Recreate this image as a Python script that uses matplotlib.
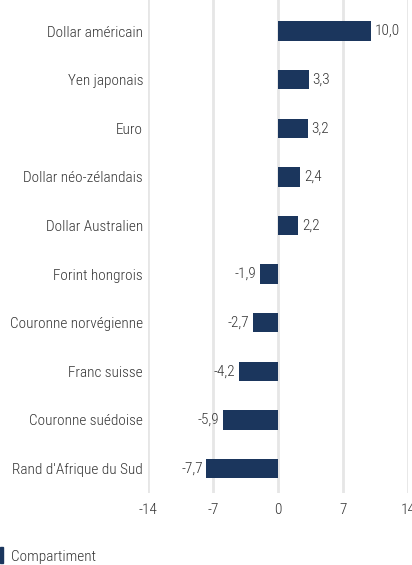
import matplotlib.pyplot as plt
from matplotlib.patches import Rectangle

# Currency categories and values (top to bottom)
categories = ["Dollar américain", "Yen japonais", "Euro", "Dollar néo-zélandais",
              "Dollar Australien", "Forint hongrois", "Couronne norvégienne",
              "Franc suisse", "Couronne suédoise", "Rand d'Afrique du Sud"]
values = [10.0, 3.3, 3.2, 2.4, 2.2, -1.9, -2.7, -4.2, -5.9, -7.7]
x_ticks = [-14, -7, 0, 7, 14]
legend_label = "Compartiment"

bar_color = "#1b365d"
text_color = "#333333"
plt.rcParams['font.family'] = ['Roboto Condensed', 'DejaVu Sans']
plt.rcParams['font.weight'] = 300
fs = 11

fig = plt.figure(figsize=(4.12, 5.65), dpi=100)
ax = fig.add_axes([0.359, 0.127, 0.631, 0.873])

y = list(range(len(categories)))
ax.barh(y, values, height=0.4, color=bar_color, zorder=3)

# Value labels next to bars
for yi, v in zip(y, values):
    label = f"{v:.1f}".replace(".", ",")
    if v >= 0:
        ax.text(v + 0.4, yi, label, ha="left", va="center", fontsize=fs, color=text_color)
    else:
        ax.text(v - 0.4, yi, label, ha="right", va="center", fontsize=fs, color=text_color)

ax.set_xlim(-14, 14)
ax.set_ylim(9.51, -0.64)
ax.set_xticks(x_ticks)
ax.set_xticklabels([str(t) for t in x_ticks], fontsize=fs, color=text_color)
ax.set_yticks(y)
ax.set_yticklabels(categories, fontsize=fs, color=text_color)
ax.tick_params(axis="y", length=0, pad=3.5)
ax.tick_params(axis="x", length=0, pad=7)
ax.grid(axis="x", color="#e6e6e6", linewidth=2, zorder=0)
for s in ax.spines.values():
    s.set_visible(False)

# Legend marker at bottom
fig.patches.append(Rectangle((0.0, 0.0035), 0.007, 0.029, transform=fig.transFigure,
                             color=bar_color, figure=fig))
fig.text(0.027, 0.015, legend_label, fontsize=fs, color=text_color, va="center", ha="left")

plt.savefig("out.png", dpi=100)
plt.close()
